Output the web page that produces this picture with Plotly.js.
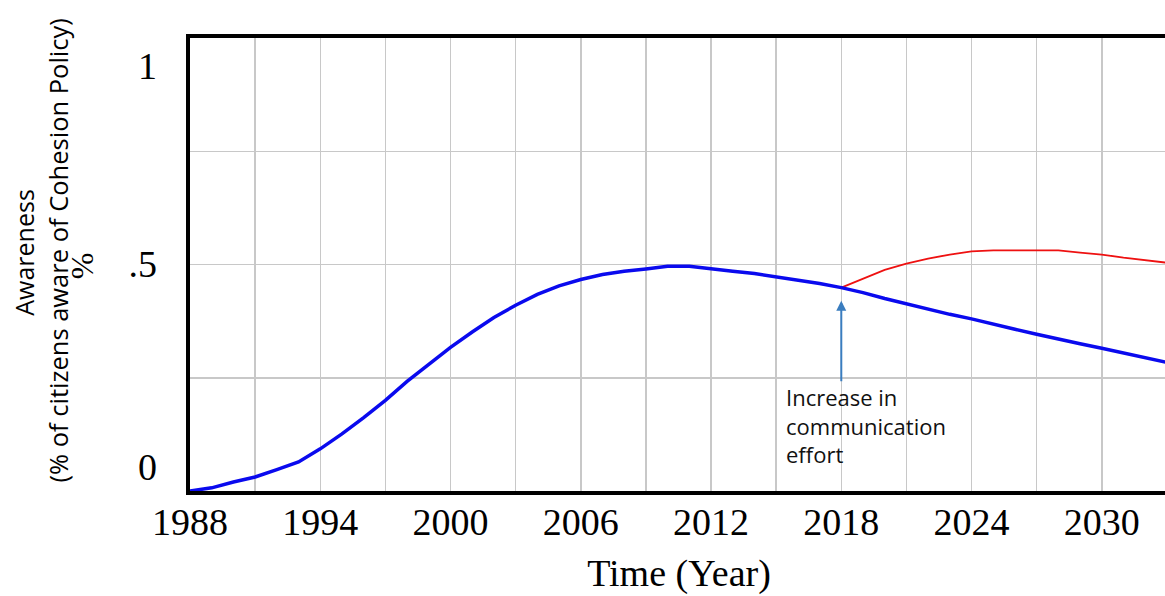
<!DOCTYPE html>
<html>
<head>
<meta charset="utf-8">
<script src="https://cdn.plot.ly/plotly-3.0.1.min.js"></script>
<style>
html,body{margin:0;padding:0;background:#fff;overflow:hidden;}
#chart{width:1170px;height:596px;}
</style>
</head>
<body>
<div id="chart"></div>
<script>
// Base run (blue)
const baseYears = [1988,1989,1990,1991,1992,1993,1994,1995,1996,1997,1998,1999,2000,2001,2002,2003,2004,2005,2006,2007,2008,2009,2010,2011,2012,2013,2014,2015,2016,2017,2018,2019,2020,2021,2022,2023,2024,2025,2026,2027,2028,2029,2030,2031,2032,2033];
const baseAwareness = [0.000,0.007,0.020,0.031,0.047,0.064,0.093,0.126,0.162,0.200,0.242,0.280,0.317,0.351,0.383,0.410,0.434,0.453,0.467,0.478,0.485,0.490,0.496,0.496,0.490,0.485,0.480,0.473,0.466,0.458,0.449,0.438,0.425,0.413,0.401,0.390,0.380,0.368,0.357,0.346,0.335,0.325,0.315,0.305,0.295,0.284];
// Scenario: increase in communication effort (red)
const scenYears = [2018,2019,2020,2021,2022,2023,2024,2025,2026,2027,2028,2029,2030,2031,2032,2033];
const scenAwareness = [0.449,0.469,0.488,0.502,0.513,0.522,0.529,0.531,0.531,0.531,0.531,0.526,0.522,0.515,0.510,0.504];
// Axis labels
const yTickText = ['0', '.5', '1'];
const yTickPos = [0.053, 0.502, 0.938];
const xTitle = 'Time (Year)';
const yTitle1 = 'Awareness';
const yTitle2 = '(% of citizens aware of Cohesion Policy)';
const unitLabel = '%';
const noteText = 'Increase in<br>communication<br>effort';
const interventionYear = 2018;

const serif = 'Liberation Serif, Times New Roman, serif';
const sans = 'Open Sans, Noto Sans, sans-serif';
const gridC = '#c8c8c8';

const traces = [
  {x: scenYears, y: scenAwareness, type: 'scatter', mode: 'lines',
   line: {color: '#ee1111', width: 1.8}, hoverinfo: 'skip'},
  {x: baseYears, y: baseAwareness, type: 'scatter', mode: 'lines',
   line: {color: '#0a0aee', width: 3.5}, hoverinfo: 'skip'},
  {x: [1988], y: [0], yaxis: 'y2', type: 'scatter', mode: 'markers',
   marker: {opacity: 0}, hoverinfo: 'skip'}
];

const layout = {
  width: 1170, height: 596,
  margin: {l: 190, r: 2, t: 38, b: 105},
  paper_bgcolor: '#fff', plot_bgcolor: '#fff',
  showlegend: false,
  xaxis: {
    range: [1988, 2033.05], tick0: 1988, dtick: 6,
    showgrid: true, gridcolor: gridC, gridwidth: 1.5,
    minor: {tick0: 1988, dtick: 3, showgrid: true, gridcolor: gridC, gridwidth: 1.5},
    showline: true, linecolor: '#000', linewidth: 4, mirror: true,
    zeroline: false, ticks: '', ticklen: 0, ticklabelstandoff: -6,
    tickfont: {family: serif, size: 38, color: '#000'},
    title: {text: xTitle, font: {family: serif, size: 38, color: '#000'}, standoff: 19}
  },
  yaxis: {
    range: [0, 1], dtick: 0.25,
    showgrid: true, gridcolor: gridC, gridwidth: 1.5,
    showline: true, linecolor: '#000', linewidth: 4, mirror: true,
    zeroline: false, ticks: '', showticklabels: false
  },
  yaxis2: {
    range: [0, 1], overlaying: 'y', side: 'left',
    tickvals: yTickPos, ticktext: yTickText,
    showgrid: false, showline: false, zeroline: false, ticks: '',
    ticklabelstandoff: 32,
    tickfont: {family: serif, size: 38, color: '#000'}
  },
  annotations: [
    {xref: 'x', yref: 'y', x: interventionYear, y: 0.42, axref: 'x', ayref: 'y',
     ax: interventionYear, ay: 0.239, text: '', showarrow: true,
     arrowhead: 2, arrowsize: 1, arrowwidth: 2, arrowcolor: '#3a7dbf'},
    {xref: 'x', yref: 'y', x: interventionYear, y: 0.245, xshift: -57,
     xanchor: 'left', yanchor: 'top', align: 'left', showarrow: false,
     text: noteText, font: {family: sans, size: 22, color: '#111'}},
    {xref: 'paper', yref: 'paper', x: 0, y: 0.526, xshift: -166, xanchor: 'center', yanchor: 'middle',
     textangle: -90, showarrow: false, text: yTitle1, font: {family: sans, size: 25, color: '#000'}},
    {xref: 'paper', yref: 'paper', x: 0, y: 0.531, xshift: -132, xanchor: 'center', yanchor: 'middle',
     textangle: -90, showarrow: false, text: yTitle2, font: {family: sans, size: 25.5, color: '#000'}},
    {xref: 'paper', yref: 'paper', x: 0, y: 0.496, xshift: -108, xanchor: 'center', yanchor: 'middle',
     textangle: -90, showarrow: false, text: unitLabel, font: {family: serif, size: 32, color: '#000'}}
  ]
};

Plotly.newPlot('chart', traces, layout, {staticPlot: true, displayModeBar: false});
</script>
</body>
</html>
